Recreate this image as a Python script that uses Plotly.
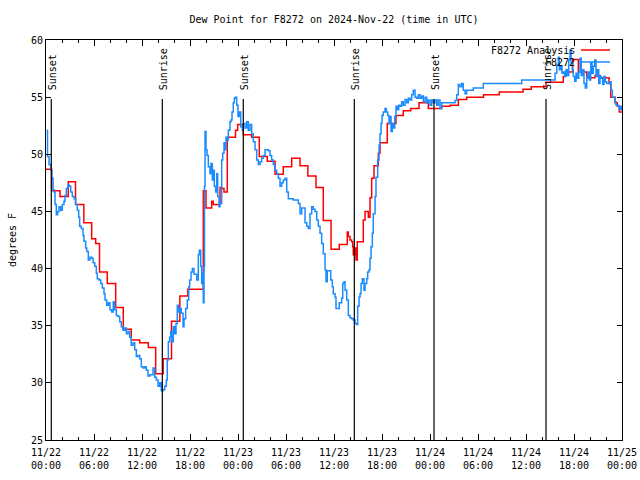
import pandas as pd
import plotly.graph_objects as go

start = pd.Timestamp("2024-11-22 00:00")

# F8272 Analysis (hours since 2024-11-22 00:00 UTC, deg F)
analysis_hours = [0, 0.71, 1.75, 2.78, 3.69, 4.73, 5.71, 6.21, 6.69, 7.66, 8.71, 9.66, 10.66, 11.71,
                  12.79, 13.71, 14.65, 15.69, 16.73, 17.73, 19.66, 20.0, 20.71, 20.91, 21.75, 22.0,
                  22.25, 22.66, 23.69, 23.96, 24.66, 25.71, 26.66, 27.66, 28.63, 29.66, 30.71, 31.75,
                  32.73, 33.75, 34.66, 35.63, 36.66, 37.66, 37.79, 38.0, 38.21, 38.34, 38.41, 38.63,
                  38.75, 38.91, 39.66, 39.88, 40.29, 40.5, 40.71, 41.0, 41.54, 41.75, 42.66, 43.75,
                  44.66, 45.59, 46.63, 47.79, 49.46, 50.5, 51.54, 52.59, 54.69, 56.66, 59.63, 60.65,
                  62.5, 64.66, 64.88, 65.84, 66.54, 67.59, 68.63, 69.25, 70.38, 70.59, 71.13, 71.41,
                  71.66, 72.0]
analysis_values = [48.7, 46.8, 46.3, 47.6, 45.6, 44.0, 42.6, 42.2, 39.7, 38.7, 36.6, 34.7, 33.75, 33.5,
                   33.1, 30.8, 32.1, 35.4, 37.6, 38.2, 46.8, 45.3, 45.9, 45.6, 47.1, 47.0,
                   46.7, 51.5, 52.1, 52.6, 51.7, 51.5, 49.8, 49.4, 48.25, 48.9, 49.65, 49.0,
                   48.1, 47.1, 44.2, 41.7, 42.1, 43.2, 42.8, 42.5, 42.35, 41.9, 41.2, 41.8,
                   40.75, 42.35, 44.25, 45.0, 44.5, 46.2, 47.9, 49.0, 50.1, 51.0, 52.7, 53.4,
                   53.8, 54.0, 54.5, 54.0, 54.2, 54.3, 54.8, 55.0, 55.2, 55.45, 55.7, 55.9,
                   56.3, 56.8, 57.2, 58.3, 57.2, 56.7, 56.9, 56.7, 56.2, 55.0, 54.5, 54.2,
                   53.7, 53.7]

# F8272 observations
obs_hours = [0.09, 0.19, 0.38, 0.59, 0.71, 0.88, 1.0, 1.13, 1.29, 1.46, 1.63, 1.84, 2.04, 2.25, 2.38,
             2.54, 2.75, 2.96, 3.09, 3.29, 3.5, 3.71, 3.91, 4.09, 4.21, 4.41, 4.63, 4.75, 4.96, 5.09,
             5.29, 5.5, 5.71, 5.88, 6.09, 6.29, 6.41, 6.63, 6.84, 7.04, 7.25, 7.38, 7.59, 7.79, 8.0,
             8.21, 8.41, 8.59, 8.79, 9.0, 9.21, 9.41, 9.63, 9.84, 10.04, 10.25, 10.46, 10.66, 10.88,
             11.09, 11.29, 11.5, 11.71, 11.91, 12.13, 12.34, 12.54, 12.75, 13.0, 13.21, 13.38, 13.59,
             13.79, 14.0, 14.21, 14.41, 14.63, 14.84, 15.04, 15.16, 15.29, 15.46, 15.59, 15.71, 15.91,
             16.09, 16.25, 16.41, 16.54, 16.71, 16.91, 17.13, 17.25, 17.46, 17.66, 17.84, 17.96,
             18.13, 18.29, 18.5, 18.84, 19.04, 19.16, 19.34, 19.46, 19.59, 19.66, 19.75, 19.81,
             19.88, 20.0, 20.13, 20.29, 20.5, 20.63, 20.79, 20.91, 21.04, 21.21, 21.34, 21.46, 21.63,
             21.75, 21.96, 22.09, 22.25, 22.38, 22.5, 22.66, 22.79, 23.0, 23.13, 23.25, 23.41, 23.54,
             23.66, 23.84, 24.0, 24.16, 24.34, 24.54, 24.66, 24.88, 25.09, 25.29, 25.5, 25.71, 25.91,
             26.13, 26.34, 26.54, 26.75, 26.96, 27.16, 27.38, 27.79, 28.0, 28.21, 28.41, 28.63, 28.84,
             29.04, 29.25, 29.46, 29.66, 29.88, 30.09, 30.29, 30.91, 31.54, 31.75, 31.96, 32.16,
             32.38, 32.59, 32.79, 33.0, 33.21, 33.41, 33.63, 33.84, 34.04, 34.25, 34.46, 34.66,
             34.88, 35.0, 35.16, 35.38, 35.59, 35.79, 35.91, 36.13, 36.25, 36.54, 36.66, 36.88,
             36.96, 37.09, 37.25, 37.38, 37.59, 37.79, 38.0, 38.21, 38.41, 38.63, 38.84, 38.96,
             39.13, 39.25, 39.38, 39.54, 39.75, 39.88, 40.09, 40.21, 40.38, 40.5, 40.63, 40.79,
             40.91, 41.13, 41.25, 41.46, 41.63, 41.75, 41.88, 42.0, 42.16, 42.38, 42.54, 42.71,
             42.88, 43.0, 43.13, 43.29, 43.41, 43.59, 43.75, 43.91, 44.09, 44.25, 44.46, 44.66,
             44.88, 45.09, 45.29, 45.5, 45.71, 45.91, 46.13, 46.34, 46.54, 46.75, 46.96, 47.16,
             47.38, 47.59, 47.79, 48.0, 48.21, 48.41, 48.63, 48.84, 49.04, 49.25, 49.46, 51.13,
             51.34, 51.54, 51.75, 51.96, 52.16, 52.38, 52.59, 53.0, 53.41, 54.66, 59.46, 63.41,
             63.63, 63.84, 64.04, 64.16, 64.34, 64.5, 64.66, 64.84, 65.0, 65.16, 65.34, 65.5, 65.63,
             65.79, 65.91, 66.09, 66.25, 66.41, 66.59, 66.75, 66.91, 67.09, 67.25, 67.41, 67.59,
             67.75, 67.91, 68.09, 68.25, 68.41, 68.59, 68.75, 68.91, 69.09, 69.25, 69.41, 69.59,
             69.75, 69.91, 70.09, 70.5, 70.63, 70.79, 71.09, 71.25, 71.54, 71.66, 71.79, 71.91, 72.0]
obs_values = [52.1, 49.8, 49.1, 48.6, 47.9, 46.9, 46.7, 45.6, 44.7, 45.0, 45.4, 45.1, 45.6, 45.9, 46.4,
              47.0, 47.3, 47.2, 46.7, 46.3, 46.1, 45.6, 45.1, 44.5, 43.7, 43.5, 42.9, 42.4, 41.8, 41.5,
              40.75, 41.0, 40.9, 40.5, 40.2, 39.6, 39.1, 39.0, 38.7, 38.3, 37.8, 37.25, 36.8, 37.0, 36.4,
              36.2, 37.1, 36.4, 35.9, 35.8, 35.35, 34.9, 34.6, 34.8, 34.3, 34.5, 34.0, 33.3, 33.5,
              32.9, 32.3, 32.4, 32.1, 31.4, 31.3, 31.4, 31.1, 30.6, 30.7, 30.7, 31.3, 30.5,
              30.25, 29.7, 30.0, 29.3, 29.4, 29.7, 30.25, 32.0, 33.6, 34.0, 34.5, 33.6, 34.9,
              34.3, 35.2, 36.8, 36.2, 36.5, 36.1, 34.9, 35.6, 36.5, 37.25, 38.4, 39.0,
              39.7, 40.0, 39.5, 39.0, 41.2, 41.6, 40.2, 38.7, 39.6, 37.0, 40.2, 47.2,
              52.0, 50.4, 49.9, 48.9, 48.3, 49.2, 47.75, 48.6, 47.2, 46.7, 48.3, 46.3, 45.4,
              45.7, 49.5, 50.1, 51.0, 50.4, 51.5, 51.25, 52.1, 52.85, 53.0, 53.7, 54.5, 54.9,
              55.0, 54.3, 53.3, 53.7, 52.4, 52.1, 52.7, 52.3, 52.85, 52.1, 52.6, 51.8, 51.1,
              50.4, 49.5, 49.1, 49.35, 49.65, 49.9, 50.4, 50.3, 49.9, 49.5, 49.1, 48.6, 48.3,
              47.9, 47.2, 47.5, 47.75, 47.9, 46.7, 46.1, 46.0, 45.7, 44.8, 45.3, 45.3,
              44.0, 43.7, 43.5, 44.8, 45.4, 45.2, 45.0, 44.25, 43.7, 43.1, 42.2, 41.3,
              39.9, 38.85, 39.8, 39.8, 39.0, 38.4, 37.8, 37.5, 36.5, 36.5, 37.0, 37.0,
              37.4, 38.7, 38.85, 38.1, 37.25, 35.9, 35.7, 35.6, 35.5, 35.2, 35.1, 36.7,
              37.5, 37.8, 38.7, 39.1, 38.1, 38.7, 39.1, 39.7, 39.9, 40.9, 41.9, 43.1,
              44.8, 46.3, 48.0, 49.5, 50.8, 51.8, 52.7, 53.4, 53.7, 54.0, 53.7, 53.4,
              52.7, 53.3, 52.0, 52.7, 52.3, 53.3, 54.2, 53.9, 54.3, 54.2, 54.6, 54.3,
              54.8, 54.5, 54.9, 54.75, 55.2, 55.6, 55.0, 54.9, 55.2, 54.9, 55.1, 54.6,
              55.0, 54.5, 54.75, 54.3, 54.75, 54.5, 54.75, 54.3, 54.75, 54.0, 54.5, 54.7,
              55.2, 56.1, 55.9, 56.2, 55.6, 55.3, 55.6, 55.6, 55.8, 56.2, 56.5, 56.5,
              57.1, 57.8, 58.5, 57.4, 57.7, 57.1, 57.2, 56.8, 57.4, 56.9, 58.25, 59.1, 58.0,
              57.4, 56.8, 56.4, 57.1, 56.65, 57.2, 58.4, 56.9, 57.4, 56.2, 55.8, 56.8,
              57.2, 56.5, 58.0, 57.1, 57.7, 58.25, 56.8, 57.4, 56.2, 56.8, 56.65, 56.1,
              56.8, 56.35, 56.2, 56.35, 55.6, 55.0, 54.6, 54.3, 54.2, 53.9, 54.2, 53.9, 53.9]

sun_hours = [0.66, 14.54, 24.66, 38.54, 48.5, 62.5]
sun_labels = ["Sunset", "Sunrise", "Sunset", "Sunrise", "Sunset", "Sunrise"]

tick_hours = [0, 6, 12, 18, 24, 30, 36, 42, 48, 54, 60, 66, 72]
tick_labels = ["11/22<br>00:00", "11/22<br>06:00", "11/22<br>12:00", "11/22<br>18:00",
               "11/23<br>00:00", "11/23<br>06:00", "11/23<br>12:00", "11/23<br>18:00",
               "11/24<br>00:00", "11/24<br>06:00", "11/24<br>12:00", "11/24<br>18:00",
               "11/25<br>00:00"]

def to_time(hours):
    return [start + pd.Timedelta(hours=h) for h in hours]

FONT = "DejaVu Sans Mono"
RED = "#ff0000"
BLUE = "#1a8cff"

fig = go.Figure()
fig.add_trace(go.Scatter(x=to_time(analysis_hours), y=analysis_values, mode="lines",
                         line=dict(color=RED, width=1.5, shape="hv"), name="F8272 Analysis"))
fig.add_trace(go.Scatter(x=to_time(obs_hours), y=obs_values, mode="lines",
                         line=dict(color=BLUE, width=1.5, shape="hv"), name="F8272"))

W, H = 640, 480
# plot area in window pixels
L, R, T, B = 46, 622, 40, 440
def px(xp):
    return (xp - L) / (R - L)
def py(yp):
    return (B - yp) / (B - T)

for h, lab in zip(sun_hours, sun_labels):
    t = start + pd.Timedelta(hours=h)
    fig.add_shape(type="line", xref="x", yref="paper", x0=t, x1=t, y0=0, y1=py(99),
                  line=dict(color="black", width=1.2), layer="above")
    fig.add_annotation(x=t, xref="x", y=py(92), yref="paper", text=lab, textangle=-90,
                       showarrow=False, xanchor="center", yanchor="bottom", xshift=1,
                       font=dict(family=FONT, size=10, color="black"))

# custom legend (gnuplot style)
legend_items = [("F8272 Analysis", RED, 50), ("F8272", BLUE, 62)]
for name, col, yp in legend_items:
    fig.add_annotation(x=px(577), y=py(yp), xref="paper", yref="paper", text=name,
                       showarrow=False, xanchor="right", yanchor="middle",
                       font=dict(family=FONT, size=10, color="black"))
    fig.add_shape(type="line", xref="paper", yref="paper", x0=px(581), x1=px(610),
                  y0=py(yp), y1=py(yp), line=dict(color=col, width=1.5))

fig.update_layout(
    width=W, height=H,
    margin=dict(l=L, r=W - R, t=T, b=H - B, autoexpand=False),
    paper_bgcolor="white", plot_bgcolor="white",
    showlegend=False,
    font=dict(family=FONT, size=10, color="black"),
    title=dict(text="Dew Point for F8272 on 2024-Nov-22 (time in UTC)", x=px(334), xref="paper",
               xanchor="center", y=1 - 19 / H, yanchor="middle",
               font=dict(family=FONT, size=10, color="black")),
    xaxis=dict(type="date", range=[start, start + pd.Timedelta(hours=72)], automargin=False,
               tickmode="array", tickvals=to_time(tick_hours), ticktext=tick_labels,
               ticks="inside", ticklen=6, tickcolor="black", tickwidth=1,
               ticklabelstandoff=3,
               showline=True, linecolor="black", linewidth=1, mirror="allticks",
               showgrid=False, zeroline=False,
               minor=dict(tickmode="linear", tick0=start, dtick=2 * 3600 * 1000,
                          ticks="inside", ticklen=3, tickcolor="black", showgrid=False),
               tickfont=dict(family=FONT, size=10, color="black")),
    yaxis=dict(range=[25, 60], dtick=5, tick0=25, ticks="inside", ticklen=5, tickcolor="black",
               automargin=False,
               showline=True, linecolor="black", linewidth=1, mirror="allticks",
               showgrid=False, zeroline=False,
               title=dict(text="degrees F", standoff=12, font=dict(family=FONT, size=10)),
               tickfont=dict(family=FONT, size=10, color="black")),
)

# remove the default 8px page margin so the 640x480 figure fills the window exactly
fig.write_html("out.html", config={"displayModeBar": False},
               post_script="document.body.style.margin='0';document.body.style.overflow='hidden';")
